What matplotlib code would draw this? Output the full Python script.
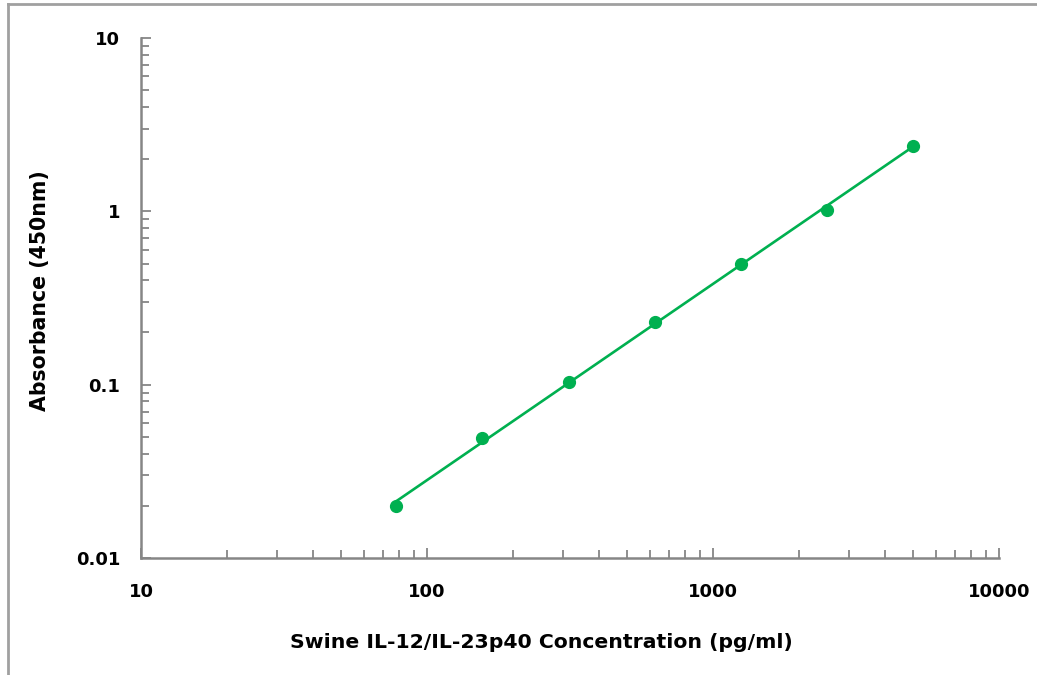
import numpy as np
import matplotlib
matplotlib.use("Agg")
import matplotlib.pyplot as plt
from matplotlib.lines import Line2D
from matplotlib.ticker import LogLocator, FixedLocator, NullFormatter

concentration = [78.125, 156.25, 312.5, 625, 1250, 2500, 5000]
absorbance = [0.020, 0.049, 0.104, 0.230, 0.497, 1.02, 2.38]
x_ticks = [10, 100, 1000, 10000]
x_tick_labels = ["10", "100", "1000", "10000"]
y_ticks = [0.01, 0.1, 1, 10]
y_tick_labels = ["0.01", "0.1", "1", "10"]

plt.rcParams['font.family'] = ['DejaVu Sans']
green = '#00B050'
gray = '#868686'

fig = plt.figure(figsize=(10.37, 6.75), dpi=100)
ax = fig.add_axes([141/1037, 1-558/675, (999-141)/1037, (558-38)/675])

# power trendline fit in log space
lx = np.log10(concentration)
ly = np.log10(absorbance)
k, b = np.polyfit(lx, ly, 1)
xf = np.logspace(lx[0], lx[-1], 100)
yf = 10 ** (k * np.log10(xf) + b)
ax.plot(xf, yf, color=green, lw=1.9, zorder=2)
ax.plot(concentration, absorbance, 'o', color=green, ms=8.5, zorder=3, clip_on=False)

ax.set_xscale('log')
ax.set_yscale('log')
ax.set_xlim(10, 10000)
ax.set_ylim(0.01, 10)

ax.xaxis.set_major_locator(FixedLocator(x_ticks))
ax.yaxis.set_major_locator(FixedLocator(y_ticks))
ax.set_xticklabels(x_tick_labels)
ax.set_yticklabels(y_tick_labels)
ax.xaxis.set_minor_locator(LogLocator(base=10, subs=np.arange(2, 10)))
ax.yaxis.set_minor_locator(LogLocator(base=10, subs=np.arange(2, 10)))
ax.xaxis.set_minor_formatter(NullFormatter())
ax.yaxis.set_minor_formatter(NullFormatter())

for s in ['top', 'right']:
    ax.spines[s].set_visible(False)
for s in ['left', 'bottom']:
    ax.spines[s].set_color(gray)
    ax.spines[s].set_linewidth(1.8)

ax.tick_params(axis='both', which='both', direction='in', color=gray, width=1.3)
ax.tick_params(axis='both', which='major', length=7)
ax.tick_params(axis='both', which='minor', length=6)
ax.tick_params(axis='x', which='major', pad=18, labelsize=13)
ax.tick_params(axis='y', which='major', pad=15, labelsize=13)
for lab in ax.get_xticklabels() + ax.get_yticklabels():
    lab.set_fontweight('bold')

fig.text(541/1037, 1-643/675, "Swine IL-12/IL-23p40 Concentration (pg/ml)",
         ha='center', va='center', fontsize=14.7, fontweight='bold')
fig.text(40/1037, 1-291/675, "Absorbance (450nm)", rotation=90,
         ha='center', va='center', fontsize=14.8, fontweight='bold')

# figure border (top and left)
fig.add_artist(Line2D([8/1037, 8/1037], [0, 1-4/675], transform=fig.transFigure,
                      color='#A0A0A0', lw=2))
fig.add_artist(Line2D([8/1037, 1], [1-4/675, 1-4/675], transform=fig.transFigure,
                      color='#A0A0A0', lw=2))

fig.savefig("out.png", dpi=100)
